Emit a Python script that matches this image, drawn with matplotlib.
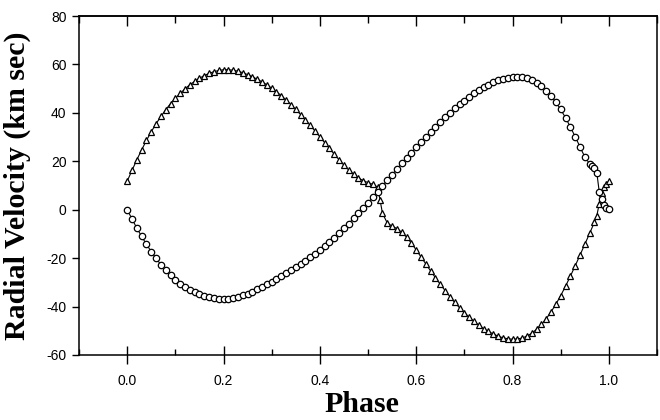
import matplotlib
matplotlib.use("Agg")
import matplotlib.pyplot as plt
from matplotlib.ticker import MultipleLocator

# triangles
tri_phase = [0.00, 0.01, 0.02, 0.03, 0.04, 0.05, 0.06, 0.07, 0.08, 0.09,
             0.10, 0.11, 0.12, 0.13, 0.14, 0.15, 0.16, 0.17, 0.18, 0.19,
             0.20, 0.21, 0.22, 0.23, 0.24, 0.25, 0.26, 0.27, 0.28, 0.29,
             0.30, 0.31, 0.32, 0.33, 0.34, 0.35, 0.36, 0.37, 0.38, 0.39,
             0.40, 0.41, 0.42, 0.43, 0.44, 0.45, 0.46, 0.47, 0.48, 0.49,
             0.50, 0.51, 0.52, 0.525, 0.53, 0.54, 0.55, 0.56, 0.57, 0.58, 0.59,
             0.60, 0.61, 0.62, 0.63, 0.64, 0.65, 0.66, 0.67, 0.68, 0.69,
             0.70, 0.71, 0.72, 0.73, 0.74, 0.75, 0.76, 0.77, 0.78, 0.79,
             0.80, 0.81, 0.82, 0.83, 0.84, 0.85, 0.86, 0.87, 0.88, 0.89,
             0.90, 0.91, 0.92, 0.93, 0.94, 0.95, 0.96, 0.97, 0.975,
             0.98, 0.985, 0.99, 0.995, 1.00]
tri_vel = [11.8, 16.2, 20.6, 24.7, 28.6, 32.2, 35.5, 38.5, 41.3, 43.8,
           46.0, 48.0, 49.9, 51.6, 53.0, 54.3, 55.4, 56.3, 57.0, 57.5,
           57.8, 57.8, 57.6, 57.2, 56.6, 55.8, 54.9, 53.9, 52.8, 51.6,
           50.2, 48.7, 47.1, 45.3, 43.4, 41.4, 39.3, 37.1, 34.8, 32.5,
           30.1, 27.7, 25.3, 22.9, 20.6, 18.4, 16.4, 14.6, 13.1, 12.0,
           11.2, 10.5, 9.3, 4.0, -1.5, -5.5, -6.8, -7.8, -9.3, -11.3, -13.8,
           -16.6, -19.5, -22.4, -25.3, -28.1, -30.8, -33.4, -35.9, -38.3, -40.5,
           -42.5, -44.4, -46.1, -47.7, -49.1, -50.3, -51.3, -52.2, -52.9, -53.3,
           -53.5, -53.4, -53.0, -52.2, -51.0, -49.4, -47.4, -45.0, -42.2, -39.0,
           -35.5, -31.6, -27.5, -23.2, -18.8, -14.3, -9.8, -5.2, -2.5,
           2.5, 7.0, 9.5, 10.8, 11.8]

# circles
circ_phase = [0.00, 0.01, 0.02, 0.03, 0.04, 0.05, 0.06, 0.07, 0.08, 0.09,
              0.10, 0.11, 0.12, 0.13, 0.14, 0.15, 0.16, 0.17, 0.18, 0.19,
              0.20, 0.21, 0.22, 0.23, 0.24, 0.25, 0.26, 0.27, 0.28, 0.29,
              0.30, 0.31, 0.32, 0.33, 0.34, 0.35, 0.36, 0.37, 0.38, 0.39,
              0.40, 0.41, 0.42, 0.43, 0.44, 0.45, 0.46, 0.47, 0.48, 0.49,
              0.50, 0.51, 0.52, 0.53, 0.54, 0.55, 0.56, 0.57, 0.58, 0.59,
              0.60, 0.61, 0.62, 0.63, 0.64, 0.65, 0.66, 0.67, 0.68, 0.69,
              0.70, 0.71, 0.72, 0.73, 0.74, 0.75, 0.76, 0.77, 0.78, 0.79,
              0.80, 0.81, 0.82, 0.83, 0.84, 0.85, 0.86, 0.87, 0.88, 0.89,
              0.90, 0.91, 0.92, 0.93, 0.94, 0.95, 0.96, 0.965, 0.97, 0.975,
              0.98, 0.985, 0.99, 0.995, 1.00]
circ_vel = [0.0, -3.8, -7.6, -11.0, -14.3, -17.3, -20.1, -22.7, -25.0, -27.1,
            -28.9, -30.5, -31.9, -33.1, -34.1, -34.9, -35.6, -36.1, -36.5, -36.7,
            -36.8, -36.7, -36.4, -36.0, -35.4, -34.7, -33.8, -32.9, -31.8, -30.8,
            -29.7, -28.6, -27.5, -26.3, -25.1, -23.8, -22.4, -21.0, -19.6, -18.2,
            -16.7, -15.1, -13.4, -11.6, -9.7, -7.7, -5.7, -3.6, -1.5, 0.7,
            2.9, 5.1, 7.3, 9.8, 12.2, 14.5, 16.8, 19.1, 21.4, 23.6,
            25.8, 28.0, 30.1, 32.2, 34.2, 36.2, 38.1, 40.0, 41.8, 43.5,
            45.1, 46.6, 48.0, 49.3, 50.5, 51.6, 52.6, 53.4, 54.1, 54.6,
            54.9, 55.0, 54.8, 54.3, 53.5, 52.4, 51.0, 49.2, 47.0, 44.4,
            41.4, 38.0, 34.2, 30.2, 26.0, 21.8, 19.0, 18.0, 17.3, 15.3,
            7.4, 4.5, 2.0, 0.8, 0.3]

x_ticks = [0.0, 0.2, 0.4, 0.6, 0.8, 1.0]
y_ticks = [-60, -40, -20, 0, 20, 40, 60, 80]

plt.rcParams["axes.unicode_minus"] = False
plt.rcParams["font.family"] = ["Liberation Sans", "DejaVu Sans"]

fig = plt.figure(figsize=(6.6, 4.2), dpi=100)
ax = fig.add_axes([0.1197, 0.1548, 0.8758, 0.8071])

ax.plot(tri_phase, tri_vel, color="black", lw=0.8, marker="^", ms=4.8,
        mfc="white", mec="black", mew=0.9)
ax.plot(circ_phase, circ_vel, color="black", lw=0.8, marker="o", ms=4.6,
        mfc="white", mec="black", mew=0.9)

ax.set_xlim(-0.1, 1.1)
ax.set_ylim(-60, 80)
ax.set_xticks(x_ticks)
ax.set_xticklabels(["%.1f" % t for t in x_ticks])
ax.xaxis.set_minor_locator(MultipleLocator(0.1))
ax.set_yticks(y_ticks)
ax.set_yticklabels([str(t) for t in y_ticks])

ax.tick_params(axis="x", which="major", direction="inout", length=13,
               width=1.0, pad=7, labelsize=10, top=False)
ax.tick_params(axis="x", which="minor", direction="in", length=4,
               width=1.0, top=False)
ax.tick_params(axis="y", which="major", direction="out", length=5,
               width=1.0, pad=4, labelsize=10, right=False)

top = ax.secondary_xaxis("top")
top.set_xticks(x_ticks)
top.xaxis.set_minor_locator(MultipleLocator(0.1))
top.tick_params(which="major", direction="in", length=7, width=1.0,
                labeltop=False)
top.tick_params(which="minor", direction="in", length=5, width=1.0)
top.spines["top"].set_linewidth(1.1)

for s in ax.spines.values():
    s.set_linewidth(1.1)

label_font = dict(family=["Liberation Serif", "DejaVu Serif"],
                  fontweight="bold", fontsize=21.5)
ax.set_xlabel("Phase", **label_font)
ax.set_ylabel("Radial Velocity (km sec)", labelpad=6, **label_font)
ax.yaxis.set_label_coords(-0.083, 0.5)
ax.xaxis.set_label_coords(0.49, -0.105)

fig.savefig("out.png", dpi=100)
